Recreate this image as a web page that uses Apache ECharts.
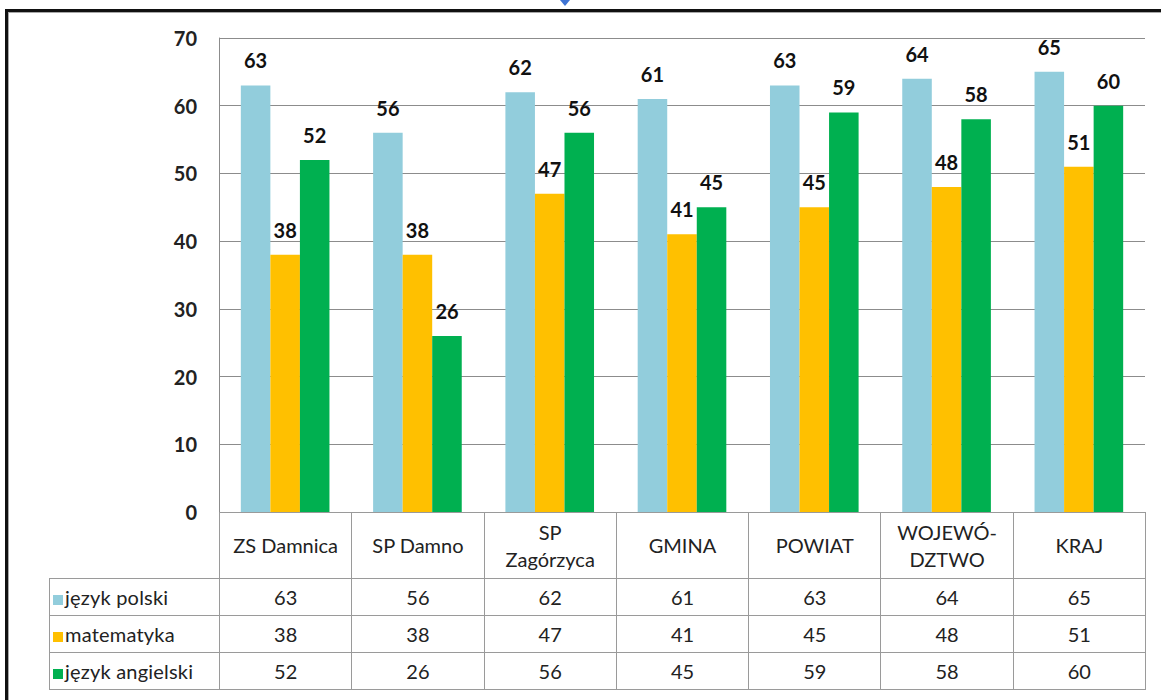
<!DOCTYPE html>
<html>
<head>
<meta charset="utf-8">
<script src="https://cdn.jsdelivr.net/npm/echarts@6/dist/echarts.min.js"></script>
<style>
  html, body { margin: 0; padding: 0; background: #fff; }
  #wrap { position: relative; width: 1161px; height: 700px; overflow: hidden; font-family: Lato, "Open Sans", sans-serif; }
  #frame { position: absolute; left: 5px; top: 9px; width: 1200px; height: 760px; border-top: 3px solid #111; border-left: 3px solid #111; box-shadow: inset 1px 1px 0 #a8a8a8; }
  #marker { position: absolute; left: 560px; top: 0; width: 0; height: 0; border-left: 5px solid transparent; border-right: 5px solid transparent; border-top: 6px solid #3f74d4; }
  #chart { position: absolute; left: 0; top: 0; width: 1161px; height: 700px; }
  #table { position: absolute; left: 49px; top: 512px; border-collapse: collapse; table-layout: fixed; font-size: 20px; color: #222; }
  #table td { border: 1px solid #9a9a9a; text-align: center; padding: 0; line-height: 27px; }
  #table td.blank { border-top: none; border-left: none; }
  #table td.legend { text-align: left; padding-left: 3px; white-space: nowrap; letter-spacing: 0.2px; }
  #table .key { display: inline-block; width: 10px; height: 10px; margin-right: 2px; }
</style>
</head>
<body>
<div id="wrap">
  <div id="frame"></div>
  <div id="marker"></div>
  <div id="chart"></div>
  <table id="table"></table>
</div>
<script>
// kategorie i wyniki (%)
const categories = ["ZS Damnica", "SP Damno", "SP\nZagórzyca", "GMINA", "POWIAT", "WOJEWÓ-\nDZTWO", "KRAJ"];
const polski = [63, 56, 62, 61, 63, 64, 65];
const matematyka = [38, 38, 47, 41, 45, 48, 51];
const angielski = [52, 26, 56, 45, 59, 58, 60];
const seriesNames = ["język polski", "matematyka", "język angielski"];
const colors = ["#92cddc", "#ffc000", "#00b050"];
const yTicks = { min: 0, max: 70, interval: 10 };

const gridLeft = 219, gridRight = 16, gridTop = 38, gridBottom = 188;
const values = [polski, matematyka, angielski];

const chart = echarts.init(document.getElementById("chart"), null, { renderer: "svg" });
chart.setOption({
  animation: false,
  grid: { left: gridLeft, right: gridRight, top: gridTop, bottom: gridBottom },
  xAxis: {
    type: "category",
    data: categories,
    axisLabel: { show: false },
    axisTick: { show: false },
    axisLine: { show: false }
  },
  yAxis: {
    type: "value",
    min: yTicks.min,
    max: yTicks.max,
    interval: yTicks.interval,
    axisLine: { show: true, lineStyle: { color: "#8c8c8c" } },
    axisTick: { show: false },
    axisLabel: { color: "#222", fontSize: 20, fontWeight: "bold", fontFamily: "Lato", margin: 22 },
    splitLine: { lineStyle: { color: "#8c8c8c" } }
  },
  series: values.map((data, i) => ({
    name: seriesNames[i],
    type: "bar",
    data: data,
    barGap: "0%",
    barCategoryGap: "33%",
    itemStyle: { color: colors[i] },
    label: {
      show: true,
      position: "top",
      distance: 15,
      color: "#111",
      fontSize: 20,
      fontWeight: "bold",
      fontFamily: "Lato"
    }
  }))
});

// tabela danych pod wykresem
const table = document.getElementById("table");
const colW = (1161 - gridLeft - gridRight) / categories.length;
let html = '<colgroup><col style="width:170px">' + categories.map(() => `<col style="width:${colW}px">`).join("") + "</colgroup>";
html += '<tr style="height:66px"><td class="blank"></td>' + categories.map(c => `<td>${c.replace("\n", "<br>")}</td>`).join("") + "</tr>";
values.forEach((row, i) => {
  html += `<tr style="height:37px"><td class="legend"><span class="key" style="background:${colors[i]}"></span>${seriesNames[i]}</td>` +
    row.map(v => `<td>${v}</td>`).join("") + "</tr>";
});
table.innerHTML = html;
table.style.width = (170 + colW * categories.length) + "px";
</script>
</body>
</html>
